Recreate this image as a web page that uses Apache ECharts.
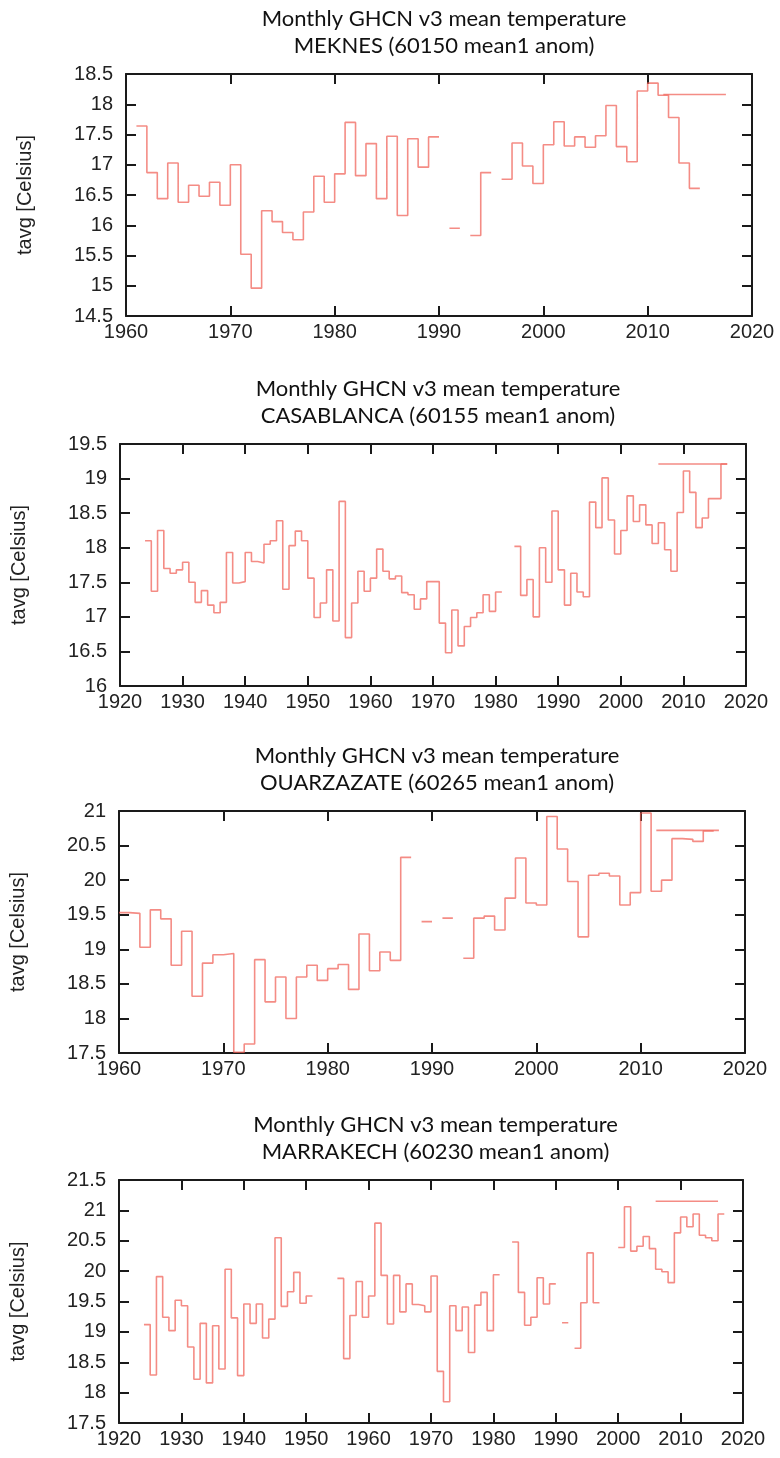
<!DOCTYPE html>
<html>
<head>
<meta charset="utf-8">
<title>Monthly GHCN v3 mean temperature</title>
<script src="https://cdn.jsdelivr.net/npm/echarts@6/dist/echarts.min.js"></script>
<style>
  html, body { margin: 0; padding: 0; background: #fff; }
  #main { width: 780px; height: 1458px; }
</style>
</head>
<body>
<div id="main"></div>
<script>
// yearly means, one value per year from the start year, null = no data
var meknesStart = 1961;
var meknesTemp = [17.64, 16.87, 16.44, 17.03, 16.38, 16.66, 16.48, 16.71, 16.33, 17.00,
  15.52, 14.96, 16.24, 16.06, 15.88, 15.76, 16.22, 16.81, 16.38, 16.85,
  17.70, 16.82, 17.35, 16.44, 17.47, 16.16, 17.43, 16.96, 17.46, null,
  15.95, null, 15.83, 16.87, null, 16.76, 17.36, 16.98, 16.69, 17.33,
  17.71, 17.31, 17.46, 17.29, 17.48, 17.98, 17.30, 17.05, 18.22, 18.35,
  18.15, 17.78, 17.03, 16.61];
var meknesRef = [[2011.5, 18.16], [2017.5, 18.16]];

var casaStart = 1924;
var casaTemp = [18.10, 17.37, 18.25, 17.70, 17.63, 17.68, 17.79, 17.50, 17.21, 17.38,
  17.17, 17.06, 17.21, 17.93, 17.49, 17.51, 17.93, 17.80, 17.78, 18.05,
  18.10, 18.39, 17.40, 18.03, 18.24, 18.10, 17.56, 16.99, 17.20, 17.68,
  16.94, 18.67, 16.70, 17.20, 17.66, 17.37, 17.56, 17.98, 17.66, 17.55,
  17.59, 17.35, 17.32, 17.11, 17.26, 17.51, 17.51, 16.91, 16.48, 17.10,
  16.58, 16.86, 16.99, 17.06, 17.32, 17.08, 17.36, null, null, 18.02,
  17.31, 17.54, 17.00, 18.00, 17.50, 18.53, 17.68, 17.17, 17.63, 17.36,
  17.29, 18.66, 18.29, 19.01, 18.40, 17.91, 18.25, 18.75, 18.38, 18.62,
  18.33, 18.06, 18.36, 17.97, 17.66, 18.51, 19.11, 18.80, 18.29, 18.43,
  18.71, 18.71, 19.21];
var casaRef = [[2006, 19.21], [2017, 19.21]];

var ouarStart = 1960;
var ouarTemp = [19.53, 19.52, 19.03, 19.57, 19.44, 18.77, 19.26, 18.32, 18.80, 18.92,
  18.94, 17.51, 17.63, 18.85, 18.24, 18.60, 18.00, 18.60, 18.77, 18.55,
  18.72, 18.78, 18.42, 19.22, 18.69, 18.96, 18.84, 20.33, null, 19.40,
  null, 19.45, null, 18.87, 19.45, 19.48, 19.28, 19.74, 20.32, 19.67,
  19.64, 20.92, 20.45, 19.98, 19.18, 20.07, 20.10, 20.06, 19.64, 19.82,
  20.97, 19.84, 20.00, 20.60, 20.59, 20.56, 20.71];
var ouarRef = [[2011.5, 20.72], [2017.5, 20.72]];

var marraStart = 1924;
var marraTemp = [19.12, 18.29, 19.91, 19.24, 19.02, 19.52, 19.43, 18.75, 18.22, 19.14,
  18.16, 19.10, 18.39, 20.03, 19.23, 18.28, 19.46, 19.14, 19.46, 18.90,
  19.21, 20.55, 19.42, 19.66, 19.98, 19.47, 19.59, null, null, null,
  null, 19.88, 18.56, 19.27, 19.83, 19.24, 19.59, 20.79, 19.93, 19.13,
  19.93, 19.33, 19.79, 19.45, 19.43, 19.33, 19.92, 18.35, 17.85, 19.43,
  19.02, 19.41, 18.66, 19.44, 19.65, 19.02, 19.94, null, null, 20.48,
  19.65, 19.11, 19.24, 19.89, 19.46, 19.79, null, 19.15, null, 18.73,
  19.48, 20.30, 19.48, null, null, null, 20.39, 21.06, 20.33, 20.41,
  20.57, 20.37, 20.03, 19.99, 19.81, 20.63, 20.89, 20.73, 20.94, 20.59,
  20.55, 20.50, 20.94];
var marraRef = [[2006, 21.15], [2016, 21.15]];

var stationNames = ['MEKNES (60150 mean1 anom)', 'CASABLANCA (60155 mean1 anom)',
  'OUARZAZATE (60265 mean1 anom)', 'MARRAKECH (60230 mean1 anom)'];
var xRanges = [[1960, 2020], [1920, 2020], [1960, 2020], [1920, 2020]];
var yRanges = [[14.5, 18.5], [16, 19.5], [17.5, 21], [17.5, 21.5]];

// turn yearly values into histogram-like steps (each year drawn from y to y+1)
function toSteps(start, vals) {
  var out = [];
  for (var i = 0; i < vals.length; i++) {
    var yr = start + i;
    if (vals[i] == null) {
      out.push([yr, '-']);
    } else {
      out.push([yr, vals[i]]);
      out.push([yr + 1, vals[i]]);
    }
  }
  return out;
}

var stepData = [
  toSteps(meknesStart, meknesTemp),
  toSteps(casaStart, casaTemp),
  toSteps(ouarStart, ouarTemp),
  toSteps(marraStart, marraTemp)
];
var refData = [meknesRef, casaRef, ouarRef, marraRef];

// plot boxes (px)
var boxes = [
  { left: 126, top: 74, width: 626, height: 242 },
  { left: 120, top: 444, width: 626, height: 242 },
  { left: 119, top: 811, width: 626, height: 242 },
  { left: 118, top: 1180, width: 625, height: 243 }
];

var lineColor = 'rgba(240,96,86,0.72)';
var axisCol = '#1a1a1a';
var labelFont = 'Liberation Sans';

var grids = [], xAxes = [], yAxes = [], series = [], titles = [];

for (var p = 0; p < 4; p++) {
  var b = boxes[p];
  grids.push({ left: b.left, top: b.top, width: b.width, height: b.height });

  titles.push({
    text: 'Monthly GHCN v3 mean temperature\n' + stationNames[p],
    left: b.left + b.width / 2,
    top: b.top - 74,
    textAlign: 'center',
    textStyle: {
      fontFamily: 'Lato',
      fontWeight: 'normal',
      fontSize: 22,
      lineHeight: 27,
      color: '#111'
    }
  });

  var tickStyle = { show: true, inside: true, length: 10, lineStyle: { color: axisCol, width: 2 } };
  var lineStyle = { show: true, onZero: false, lineStyle: { color: axisCol, width: 2 } };

  // bottom + top x axes
  xAxes.push({
    type: 'value', gridIndex: p, position: 'bottom',
    min: xRanges[p][0], max: xRanges[p][1], interval: 10,
    axisLine: lineStyle, axisTick: tickStyle, splitLine: { show: false },
    axisLabel: {
      margin: 6, color: '#222', fontSize: 20, fontFamily: labelFont,
      formatter: function(v) { return String(v); }
    }
  });
  xAxes.push({
    type: 'value', gridIndex: p, position: 'top',
    min: xRanges[p][0], max: xRanges[p][1], interval: 10,
    axisLine: lineStyle, axisTick: tickStyle, splitLine: { show: false },
    axisLabel: { show: false }
  });

  // left + right y axes
  yAxes.push({
    type: 'value', gridIndex: p, position: 'left',
    min: yRanges[p][0], max: yRanges[p][1], interval: 0.5,
    axisLine: lineStyle, axisTick: tickStyle, splitLine: { show: false },
    axisLabel: { margin: 13, color: '#222', fontSize: 20, fontFamily: labelFont },
    name: 'tavg [Celsius]',
    nameLocation: 'middle',
    nameGap: 91,
    nameTextStyle: { fontSize: 20, fontFamily: labelFont, color: '#222' }
  });
  yAxes.push({
    type: 'value', gridIndex: p, position: 'right',
    min: yRanges[p][0], max: yRanges[p][1], interval: 0.5,
    axisLine: lineStyle, axisTick: tickStyle, splitLine: { show: false },
    axisLabel: { show: false }
  });

  series.push({
    type: 'line',
    xAxisIndex: p * 2,
    yAxisIndex: p * 2,
    data: stepData[p],
    showSymbol: false,
    silent: true,
    animation: false,
    lineStyle: { color: lineColor, width: 1.6 }
  });
  series.push({
    type: 'line',
    xAxisIndex: p * 2,
    yAxisIndex: p * 2,
    data: refData[p],
    showSymbol: false,
    silent: true,
    animation: false,
    lineStyle: { color: lineColor, width: 1.6 }
  });
}

var chart = echarts.init(document.getElementById('main'));
chart.setOption({
  backgroundColor: '#fff',
  animation: false,
  title: titles,
  grid: grids,
  xAxis: xAxes,
  yAxis: yAxes,
  series: series
});
</script>
</body>
</html>
